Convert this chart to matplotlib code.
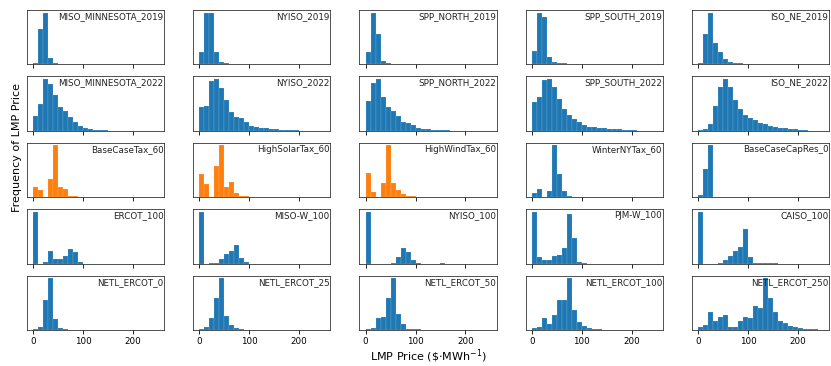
import numpy as np
import matplotlib.pyplot as plt

edges = np.arange(0, 260, 10)

blue = "#1f77b4"
orange = "#ff7f0e"

# relative bar heights per panel (25 bins of 10 $/MWh, 0..250)
miso_mn_2019 = [3, 68, 100, 12, 3, 1, 0.5, 0.3, 0.2, 0, 0, 0, 0, 0, 0, 0, 0, 0, 0, 0, 0, 0, 0, 0, 0]
nyiso_2019 = [23, 100, 100, 23, 5, 2, 1, 0.5, 0.3, 0.2, 0, 0, 0, 0, 0, 0, 0, 0, 0, 0, 0, 0, 0, 0, 0]
spp_north_2019 = [23, 100, 58, 7, 3, 1.5, 1, 0.5, 0.3, 0, 0, 0, 0, 0, 0, 0, 0, 0, 0, 0, 0, 0, 0, 0, 0]
spp_south_2019 = [26, 100, 92, 14, 5, 3, 2, 1, 0.5, 0.3, 0, 0, 0, 0, 0, 0, 0, 0, 0, 0, 0, 0, 0, 0, 0]
iso_ne_2019 = [3, 59, 100, 42, 23, 10, 5, 3, 2, 1.5, 1, 0.5, 0.3, 0, 0, 0, 0, 0, 0, 0, 0, 0, 0, 0, 0]

miso_mn_2022 = [28, 52, 100, 90, 70, 46, 38, 27, 17, 9, 5, 3, 2, 1.5, 1, 0.5, 0.3, 0, 0, 0, 0, 0, 0, 0, 0]
nyiso_2022 = [46, 47, 96, 100, 83, 60, 37, 26, 24, 17, 10, 8, 6, 5, 4, 3, 2, 2, 1, 1, 0.5, 0.5, 0, 0, 0]
spp_north_2022 = [58, 92, 100, 65, 45, 38, 29, 17, 16, 11, 6, 4, 3, 2, 2, 1, 1, 0.5, 0.3, 0.2, 0, 0, 0, 0, 0]
spp_south_2022 = [55, 66, 98, 100, 84, 61, 42, 31, 23, 17, 12, 8, 8, 6, 5, 4, 3, 3, 2, 1.5, 1, 0.5, 0.3, 0.2, 0]
iso_ne_2022 = [1, 4, 13, 47, 84, 100, 85, 60, 43, 31, 24, 20, 15, 13, 10, 8, 6, 5, 4, 3, 2, 1, 0.5, 0.3, 0]

base_tax_60 = [20, 13, 0, 36, 100, 20, 15, 3, 1.5, 1, 1, 0.5, 0.5, 0.3, 0.2, 0, 0, 0, 0, 0, 0, 0, 0, 0, 0]
high_solar_60 = [44, 25, 1, 60, 100, 20, 30, 8, 3, 2, 1, 0.5, 0.3, 0, 0, 0, 0, 0, 0, 0, 0, 0, 0, 0, 0]
high_wind_60 = [46, 10, 0, 28, 100, 28, 14, 6, 3, 2, 1, 0.5, 0.5, 0.5, 1, 0.3, 0, 0, 0, 0, 0, 0, 0, 0, 0]
winter_ny_60 = [8, 15, 0, 11, 100, 45, 11, 3, 1, 1, 0.5, 0.5, 0.3, 0, 0, 0, 0, 0, 0, 0, 0, 0, 0, 0, 0]
base_capres_0 = [4, 55, 100, 0, 0, 0, 0, 0, 0, 0, 0, 0, 0, 0, 0, 0, 0, 0, 0, 0, 0, 0, 0, 0, 0]

ercot_100 = [100, 0, 2.5, 25, 9, 9, 15, 28, 23, 4, 0, 0, 0, 0, 0, 0, 0, 0, 0, 0, 0, 0, 0, 0, 0]
miso_w_100 = [100, 0, 0.5, 2, 9, 18, 25, 36, 11, 3, 0, 0, 0, 0, 0, 0, 0, 0, 0, 0, 0, 0, 0, 0, 0]
nyiso_100 = [100, 0, 0, 0, 0, 2, 12, 30, 22, 6, 1, 0, 0, 0, 0, 0.5, 0, 0, 0, 0, 0, 0, 0, 0, 0]
pjm_w_100 = [100, 12, 7, 7, 14, 16, 30, 95, 50, 3, 1, 0, 0, 0, 0, 0, 0, 0, 0, 0, 0, 0, 0, 0, 0]
caiso_100 = [100, 0, 0, 0, 2, 7, 14, 25, 32, 66, 13, 1, 0.5, 0.5, 0.5, 0.3, 0, 0, 0, 0, 0, 0, 0, 0, 0]

netl_ercot_0 = [2, 6, 58, 100, 22, 4, 1, 0, 0, 0, 0, 0, 0, 0, 0, 0, 0, 0, 0, 0, 0, 0, 0, 0, 0]
netl_ercot_25 = [2, 5, 23, 62, 100, 27, 10, 3, 1, 0, 0, 0, 0, 0, 0, 0, 0, 0, 0, 0, 0, 0, 0, 0, 0]
netl_ercot_50 = [2, 3, 23, 26, 62, 100, 30, 11, 2, 1, 1, 0.5, 0, 0, 0, 0, 0, 0, 0, 0, 0, 0, 0, 0, 0]
netl_ercot_100 = [3, 6, 24, 12, 29, 58, 58, 100, 38, 16, 7, 3, 2, 1, 0, 0, 0, 0, 0, 0, 0, 0, 0, 0, 0]
netl_ercot_250 = [5, 9, 35, 18, 26, 28, 5, 5, 18, 25, 23, 46, 42, 100, 62, 35, 18, 13, 8, 5, 3, 2, 1, 1, 0.5]

panels = [
    ("MISO_MINNESOTA_2019", miso_mn_2019, blue),
    ("NYISO_2019", nyiso_2019, blue),
    ("SPP_NORTH_2019", spp_north_2019, blue),
    ("SPP_SOUTH_2019", spp_south_2019, blue),
    ("ISO_NE_2019", iso_ne_2019, blue),
    ("MISO_MINNESOTA_2022", miso_mn_2022, blue),
    ("NYISO_2022", nyiso_2022, blue),
    ("SPP_NORTH_2022", spp_north_2022, blue),
    ("SPP_SOUTH_2022", spp_south_2022, blue),
    ("ISO_NE_2022", iso_ne_2022, blue),
    ("BaseCaseTax_60", base_tax_60, orange),
    ("HighSolarTax_60", high_solar_60, orange),
    ("HighWindTax_60", high_wind_60, orange),
    ("WinterNYTax_60", winter_ny_60, blue),
    ("BaseCaseCapRes_0", base_capres_0, blue),
    ("ERCOT_100", ercot_100, blue),
    ("MISO-W_100", miso_w_100, blue),
    ("NYISO_100", nyiso_100, blue),
    ("PJM-W_100", pjm_w_100, blue),
    ("CAISO_100", caiso_100, blue),
    ("NETL_ERCOT_0", netl_ercot_0, blue),
    ("NETL_ERCOT_25", netl_ercot_25, blue),
    ("NETL_ERCOT_50", netl_ercot_50, blue),
    ("NETL_ERCOT_100", netl_ercot_100, blue),
    ("NETL_ERCOT_250", netl_ercot_250, blue),
]

fig, axes = plt.subplots(5, 5, figsize=(8.31, 3.66), dpi=100, sharex=True)
fig.subplots_adjust(left=0.0325, right=0.9976, top=0.9727, bottom=0.0984,
                    wspace=0.211, hspace=0.22)

for ax, (name, counts, color) in zip(axes.flat, panels):
    ax.hist(edges[:-1], bins=edges, weights=counts, color=color,
            edgecolor=(1, 1, 1, 0.3), linewidth=0.3)
    ax.set_yticks([])
    ax.set_xticks([0, 100, 200])
    ax.tick_params(axis="x", labelsize=6.3, length=3, width=0.6, pad=2)
    for sp in ax.spines.values():
        sp.set_linewidth(0.6)
        sp.set_color("#333333")
    ax.text(0.995, 0.96, name, transform=ax.transAxes, ha="right", va="top",
            fontsize=6.3, color="#222222")

axes[0, 0].set_xlim(-12.5, 262.5)

fig.text(0.5151, 0.028, r"LMP Price (\$$\cdot$MWh$^{-1}$)", ha="center", va="center",
         fontsize=8)
fig.text(0.02, 1 - 147 / 366, "Frequency of LMP Price", rotation=90,
         ha="center", va="center", fontsize=8)

fig.savefig("out.png", dpi=100)
